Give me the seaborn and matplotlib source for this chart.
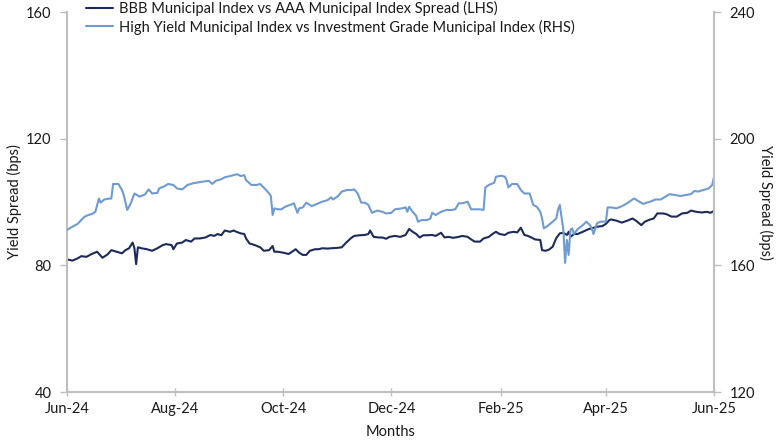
import matplotlib
matplotlib.use("Agg")
import matplotlib.pyplot as plt
import matplotlib.dates as mdates
import pandas as pd
import seaborn as sns

# ---------------- data ----------------
bbb_dates = [
    "2024-06-01", "2024-06-04", "2024-06-07", "2024-06-09", "2024-06-12", "2024-06-15",
    "2024-06-18", "2024-06-21", "2024-06-24", "2024-06-26", "2024-06-29", "2024-07-02",
    "2024-07-04", "2024-07-06", "2024-07-08", "2024-07-09", "2024-07-10", "2024-07-11",
    "2024-07-13", "2024-07-16", "2024-07-19", "2024-07-22", "2024-07-25", "2024-07-27",
    "2024-07-30", "2024-07-31", "2024-08-02", "2024-08-05", "2024-08-07", "2024-08-10",
    "2024-08-12", "2024-08-15", "2024-08-18", "2024-08-21", "2024-08-23", "2024-08-25",
    "2024-08-27", "2024-08-29", "2024-09-01", "2024-09-03", "2024-09-05", "2024-09-07",
    "2024-09-09", "2024-09-10", "2024-09-12", "2024-09-15", "2024-09-18", "2024-09-20",
    "2024-09-23", "2024-09-25", "2024-09-26", "2024-09-28", "2024-10-01", "2024-10-04",
    "2024-10-06", "2024-10-08", "2024-10-10", "2024-10-12", "2024-10-14", "2024-10-16",
    "2024-10-19", "2024-10-21", "2024-10-23", "2024-10-26", "2024-10-28", "2024-10-31",
    "2024-11-03", "2024-11-05", "2024-11-08", "2024-11-10", "2024-11-13", "2024-11-16",
    "2024-11-18", "2024-11-19", "2024-11-21", "2024-11-24", "2024-11-26", "2024-11-28",
    "2024-11-30", "2024-12-03", "2024-12-06", "2024-12-09", "2024-12-11", "2024-12-13",
    "2024-12-15", "2024-12-17", "2024-12-19", "2024-12-21", "2024-12-24", "2024-12-26",
    "2024-12-29", "2024-12-31", "2025-01-02", "2025-01-05", "2025-01-08", "2025-01-10",
    "2025-01-13", "2025-01-15", "2025-01-17", "2025-01-20", "2025-01-22", "2025-01-25",
    "2025-01-27", "2025-01-29", "2025-01-31", "2025-02-03", "2025-02-05", "2025-02-08",
    "2025-02-10", "2025-02-12", "2025-02-14", "2025-02-16", "2025-02-18", "2025-02-20",
    "2025-02-23", "2025-02-24", "2025-02-26", "2025-02-28", "2025-03-02", "2025-03-04",
    "2025-03-06", "2025-03-08", "2025-03-10", "2025-03-11", "2025-03-12", "2025-03-14",
    "2025-03-16", "2025-03-19", "2025-03-22", "2025-03-24", "2025-03-27", "2025-03-30",
    "2025-04-01", "2025-04-03", "2025-04-04", "2025-04-07", "2025-04-10", "2025-04-13",
    "2025-04-16", "2025-04-18", "2025-04-21", "2025-04-23", "2025-04-26", "2025-04-28",
    "2025-04-30", "2025-05-03", "2025-05-05", "2025-05-08", "2025-05-11", "2025-05-14",
    "2025-05-17", "2025-05-19", "2025-05-22", "2025-05-25", "2025-05-28", "2025-05-30",
    "2025-06-01",
]
bbb_spread = [
    81.9, 81.5, 82.2, 82.9, 82.7, 83.6,
    84.3, 82.4, 83.5, 84.8, 84.3, 83.8,
    84.8, 85.4, 87.2, 85.5, 80.4, 85.7,
    85.4, 85.1, 84.6, 85.4, 86.4, 86.7,
    86.4, 85.1, 86.9, 87.2, 88.0, 87.5,
    88.5, 88.5, 88.8, 89.6, 89.3, 89.9,
    89.5, 91.0, 90.6, 91.0, 90.5, 90.1,
    89.9, 88.5, 86.9, 86.4, 85.7, 84.6,
    84.8, 86.1, 84.3, 84.3, 84.0, 83.6,
    84.3, 85.1, 84.0, 83.3, 83.3, 84.6,
    85.1, 85.1, 85.4, 85.3, 85.4, 85.5,
    85.7, 86.9, 88.5, 89.3, 89.5, 89.6,
    89.9, 91.0, 89.0, 88.8, 88.8, 88.4,
    89.0, 89.3, 89.0, 89.6, 91.5, 90.6,
    89.9, 88.8, 89.5, 89.5, 89.6, 89.3,
    90.3, 88.8, 89.0, 88.7, 89.0, 89.3,
    89.0, 88.2, 87.5, 87.5, 88.5, 89.0,
    89.9, 90.6, 89.9, 89.6, 90.3, 90.6,
    90.4, 91.9, 89.6, 89.3, 88.8, 88.2,
    88.0, 84.8, 84.6, 85.0, 85.9, 88.6,
    90.1, 90.3, 89.6, 90.6, 89.0, 89.9,
    89.9, 90.6, 91.4, 91.7, 92.2, 92.4,
    93.1, 94.3, 94.5, 94.1, 93.5, 94.1,
    94.8, 94.1, 92.7, 93.8, 94.5, 94.8,
    96.4, 96.4, 96.2, 95.4, 95.4, 96.4,
    96.6, 97.3, 96.9, 96.7, 96.9, 96.6,
    97.2,
]

hy_dates = [
    "2024-06-01", "2024-06-04", "2024-06-07", "2024-06-09", "2024-06-11", "2024-06-13",
    "2024-06-15", "2024-06-17", "2024-06-19", "2024-06-20", "2024-06-22", "2024-06-25",
    "2024-06-26", "2024-06-27", "2024-06-30", "2024-07-02", "2024-07-03", "2024-07-05",
    "2024-07-07", "2024-07-09", "2024-07-12", "2024-07-15", "2024-07-17", "2024-07-19",
    "2024-07-22", "2024-07-23", "2024-07-26", "2024-07-28", "2024-07-31", "2024-08-02",
    "2024-08-05", "2024-08-08", "2024-08-11", "2024-08-13", "2024-08-16", "2024-08-20",
    "2024-08-22", "2024-08-24", "2024-08-27", "2024-08-29", "2024-09-01", "2024-09-05",
    "2024-09-07", "2024-09-09", "2024-09-10", "2024-09-13", "2024-09-16", "2024-09-18",
    "2024-09-21", "2024-09-23", "2024-09-24", "2024-09-25", "2024-09-26", "2024-09-28",
    "2024-09-30", "2024-10-02", "2024-10-05", "2024-10-07", "2024-10-09", "2024-10-10",
    "2024-10-12", "2024-10-14", "2024-10-17", "2024-10-20", "2024-10-23", "2024-10-26",
    "2024-10-28", "2024-10-29", "2024-11-01", "2024-11-03", "2024-11-06", "2024-11-09",
    "2024-11-10", "2024-11-12", "2024-11-14", "2024-11-16", "2024-11-18", "2024-11-20",
    "2024-11-23", "2024-11-26", "2024-11-28", "2024-12-01", "2024-12-03", "2024-12-07",
    "2024-12-09", "2024-12-10", "2024-12-11", "2024-12-13", "2024-12-15", "2024-12-16",
    "2024-12-18", "2024-12-21", "2024-12-23", "2024-12-24", "2024-12-26", "2024-12-29",
    "2025-01-01", "2025-01-04", "2025-01-06", "2025-01-08", "2025-01-10", "2025-01-13",
    "2025-01-15", "2025-01-17", "2025-01-20", "2025-01-22", "2025-01-23", "2025-01-25",
    "2025-01-28", "2025-01-29", "2025-02-01", "2025-02-03", "2025-02-04", "2025-02-05",
    "2025-02-07", "2025-02-10", "2025-02-12", "2025-02-14", "2025-02-17", "2025-02-19",
    "2025-02-21", "2025-02-23", "2025-02-24", "2025-02-25", "2025-02-27", "2025-03-02",
    "2025-03-04", "2025-03-05", "2025-03-06", "2025-03-08", "2025-03-09", "2025-03-10",
    "2025-03-11", "2025-03-12", "2025-03-13", "2025-03-14", "2025-03-16", "2025-03-19",
    "2025-03-21", "2025-03-23", "2025-03-24", "2025-03-25", "2025-03-27", "2025-03-29",
    "2025-04-01", "2025-04-02", "2025-04-04", "2025-04-07", "2025-04-10", "2025-04-13",
    "2025-04-16", "2025-04-17", "2025-04-19", "2025-04-22", "2025-04-24", "2025-04-26",
    "2025-04-29", "2025-05-02", "2025-05-04", "2025-05-07", "2025-05-10", "2025-05-13",
    "2025-05-16", "2025-05-19", "2025-05-21", "2025-05-23", "2025-05-26", "2025-05-29",
    "2025-05-31", "2025-06-01",
]
hy_spread = [
    171.2, 172.2, 173.1, 174.3, 175.4, 175.9,
    176.2, 176.9, 181.1, 179.8, 180.8, 181.1,
    181.1, 185.7, 185.7, 183.8, 182.2, 177.5,
    179.6, 182.7, 181.7, 182.4, 184.0, 182.7,
    182.9, 184.3, 185.0, 185.7, 185.4, 184.3,
    184.0, 185.4, 185.9, 186.1, 186.4, 186.7,
    185.7, 186.7, 187.2, 187.8, 188.2, 188.8,
    188.2, 188.5, 186.9, 185.4, 185.4, 185.7,
    184.0, 182.7, 181.9, 175.9, 178.0, 177.7,
    177.7, 178.5, 179.1, 179.6, 176.6, 178.0,
    178.3, 179.8, 178.7, 179.4, 180.1, 180.6,
    181.5, 180.8, 181.9, 183.3, 183.8, 183.8,
    184.0, 182.7, 179.8, 179.8, 179.1, 176.6,
    177.3, 176.9, 176.4, 176.6, 177.7, 178.0,
    178.3, 176.9, 178.5, 176.9, 175.6, 173.8,
    174.3, 174.3, 174.8, 176.6, 175.9, 176.9,
    177.5, 177.5, 177.7, 179.6, 179.6, 180.1,
    177.7, 177.7, 177.7, 177.5, 184.6, 185.4,
    186.1, 188.0, 188.3, 188.0, 186.9, 184.6,
    185.7, 185.7, 183.8, 182.7, 182.7, 179.1,
    178.5, 176.9, 174.8, 171.7, 172.4, 173.8,
    174.8, 177.5, 179.1, 171.2, 160.8, 168.0,
    163.3, 171.2, 171.7, 169.9, 171.4, 172.7,
    173.8, 172.7, 171.7, 169.9, 173.3, 173.8,
    173.8, 178.3, 178.3, 178.0, 178.7, 179.6,
    180.8, 181.1, 180.4, 179.4, 179.8, 180.1,
    180.8, 180.8, 181.5, 182.5, 182.2, 181.9,
    182.2, 182.5, 183.5, 183.3, 183.8, 184.3,
    185.4, 188.0,
]

bbb_label = "BBB Municipal Index vs AAA Municipal Index Spread (LHS)"
hy_label = "High Yield Municipal Index vs Investment Grade Municipal Index (RHS)"
left_ticks = [40, 80, 120, 160]
right_ticks = [120, 160, 200, 240]

# ---------------- styling ----------------
sns.set_theme(style="white")
plt.rcParams["font.family"] = ["Lato", "DejaVu Sans"]

DARK = "#1c2b5a"
LIGHT = "#6f9bd2"
SPINE = "#bfbfbf"
TEXT = "#1a1a1a"

bbb_df = pd.DataFrame({"date": pd.to_datetime(bbb_dates), "spread": bbb_spread})
hy_df = pd.DataFrame({"date": pd.to_datetime(hy_dates), "spread": hy_spread})

fig = plt.figure(figsize=(7.8, 4.4), dpi=100)
ax = fig.add_axes([0.0859, 0.109, 0.8295, 0.8637])
ax2 = ax.twinx()

sns.lineplot(data=bbb_df, x="date", y="spread", ax=ax, color=DARK,
             linewidth=1.5, label=bbb_label)
sns.lineplot(data=hy_df, x="date", y="spread", ax=ax2, color=LIGHT,
             linewidth=1.5, label=hy_label)

ax.set_ylim(left_ticks[0], left_ticks[-1])
ax2.set_ylim(right_ticks[0], right_ticks[-1])
ax.set_yticks(left_ticks)
ax2.set_yticks(right_ticks)
ax.set_xlim(pd.Timestamp("2024-06-01"), pd.Timestamp("2025-06-01"))
ax.xaxis.set_major_locator(mdates.MonthLocator(bymonth=[2, 4, 6, 8, 10, 12]))
ax.xaxis.set_major_formatter(mdates.DateFormatter("%b-%y"))

for a in (ax, ax2):
    a.grid(False)
    for s in a.spines.values():
        s.set_color(SPINE)
        s.set_linewidth(1.5)
    a.spines["top"].set_visible(False)

ax.spines["right"].set_visible(False)
ax2.spines["left"].set_visible(False)
ax2.spines["bottom"].set_visible(False)

ax.tick_params(axis="y", which="major", direction="out", length=5, width=1,
               color=SPINE, labelsize=10.5, labelcolor=TEXT, pad=6, left=True)
ax2.tick_params(axis="y", which="major", direction="out", length=5, width=1,
                color=SPINE, labelsize=10.5, labelcolor=TEXT, pad=6, right=True)
ax.tick_params(axis="x", which="major", direction="inout", length=6, width=1,
               color=SPINE, labelsize=10.5, labelcolor=TEXT, pad=4, bottom=True)

ax.set_xlabel("Months", fontsize=10.5, color=TEXT, labelpad=7)
ax.set_ylabel("Yield Spread (bps)", fontsize=10.5, color=TEXT, labelpad=3)
ax2.set_ylabel("Yield Spread (bps)", fontsize=10.5, color=TEXT, rotation=270,
               labelpad=13)

h1, l1 = ax.get_legend_handles_labels()
h2, l2 = ax2.get_legend_handles_labels()
if ax.get_legend() is not None:
    ax.get_legend().remove()
ax2.legend(h1 + h2, l1 + l2, loc="upper left", bbox_to_anchor=(0.02, 1.045),
           frameon=False, fontsize=10.5, handlelength=1.9, handletextpad=0.4,
           labelspacing=0.25, borderaxespad=0.0, labelcolor=TEXT)

fig.savefig("out.png", dpi=100, facecolor="white")
